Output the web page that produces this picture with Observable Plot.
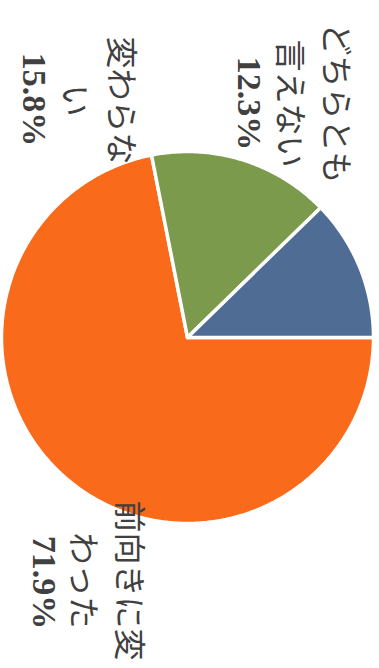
<!DOCTYPE html>
<html><head><meta charset="utf-8">
<script src="https://cdn.jsdelivr.net/npm/d3@7"></script>
<script src="https://cdn.jsdelivr.net/npm/@observablehq/plot@0.6"></script>
<style>body{margin:0;background:#fff}</style>
</head><body><div id="chart"></div>
<script>
// data
const categories = ["前向きに変わった", "変わらない", "どちらとも言えない"];
const values = [71.9, 15.8, 12.3];
const labelLines = ["前向きに変\nわった", "変わらな\nい", "どちらとも\n言えない"];
const percentLabels = ["71.9%", "15.8%", "12.3%"];
const colors = ["#F96A1B", "#7B9A4C", "#4F6C94"];

// layout (chart is drawn rotated 90° clockwise)
const W = 379, H = 668, CX = 187, CY = 337, R = 186;
const START = 90; // degrees clockwise from north
const labelPos = [
  {x: -0.419, y: 1.306, px: -0.774, py: 1.317},
  {x: -0.462, y: -1.274, px: -0.828, py: -1.280},
  {x: 0.694, y: -1.258, px: 0.328, py: -1.258}
];

const total = d3.sum(values);
let acc = START;
const pts = [];
values.forEach((v, i) => {
  const cat = categories[i];
  const a0 = acc, a1 = acc + v / total * 360; acc = a1;
  pts.push({cat, x: 0, y: 0});
  const n = Math.ceil((a1 - a0) / 0.5);
  for (let k = 0; k <= n; k++) {
    const a = (a0 + (a1 - a0) * k / n) * Math.PI / 180;
    pts.push({cat, x: Math.sin(a), y: -Math.cos(a)});
  }
  pts.push({cat, x: 0, y: 0});
});

const labels = categories.map((c, i) => ({
  cat: c, lines: labelLines[i], pct: percentLabels[i],
  lx: labelPos[i].x, ly: labelPos[i].y, px: labelPos[i].px, py: labelPos[i].py
}));

const chart = Plot.plot({
  width: W, height: H, margin: 0,
  x: {domain: [-1, 1], range: [CX - R, CX + R], axis: null},
  y: {domain: [-1, 1], range: [CY - R, CY + R], axis: null},
  color: {domain: categories, range: colors},
  style: {background: "#fff"},
  marks: [
    Plot.line(pts, {x: "x", y: "y", z: "cat", fill: "cat", stroke: "#fff", strokeWidth: 3.5, strokeLinejoin: "round"}),
    Plot.text(labels, {x: "lx", y: "ly", text: "lines", rotate: 90, fontSize: 32,
      fontFamily: "'Noto Sans CJK JP', sans-serif", fill: "#404040", lineHeight: 1.45}),
    Plot.text(labels, {x: "px", y: "py", text: "pct", rotate: 90, fontSize: 34, fontWeight: "bold",
      fontFamily: "'Liberation Serif', serif", fill: "#404040"})
  ]
});
document.getElementById("chart").appendChild(chart);
</script>
</body></html>
